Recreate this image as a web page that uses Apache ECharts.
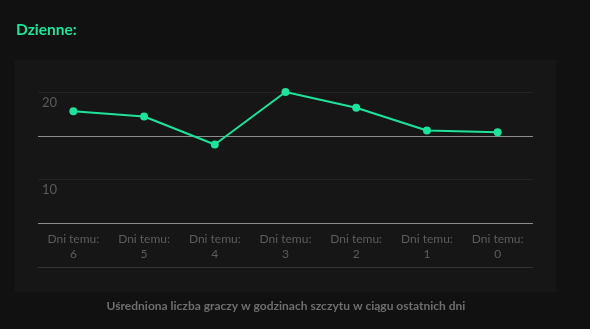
<!DOCTYPE html>
<html><head><meta charset="utf-8">
<script src="https://cdn.jsdelivr.net/npm/echarts@6/dist/echarts.min.js"></script>
<style>
html,body{margin:0;padding:0;background:#111111;}
#c{width:590px;height:329px;}
</style></head>
<body><div id="c"></div>
<script>
const titleText = 'Dzienne:';
const captionText = 'Uśredniona liczba graczy w godzinach szczytu w ciągu ostatnich dni';
const categories = ['Dni temu:\n6','Dni temu:\n5','Dni temu:\n4','Dni temu:\n3','Dni temu:\n2','Dni temu:\n1','Dni temu:\n0'];
const values = [17.8, 17.2, 14.0, 20.0, 18.2, 15.6, 15.4];
const yLabels = [10, 20];

const chart = echarts.init(document.getElementById('c'), null, {renderer:'canvas'});
chart.setOption({
  backgroundColor: '#111111',
  animation: false,
  graphic: [{
    type: 'rect', silent: true, z: -10,
    shape: {x: 15, y: 60, width: 541, height: 232},
    style: {fill: '#161616'}
  }],
  title: [{
    text: titleText, left: 16, top: 21.5, padding: 0,
    textStyle: {color: '#1ee39a', fontSize: 15.5, fontWeight: 'bold', fontFamily: 'Lato'}
  }, {
    text: captionText, left: 286, top: 300, padding: 0, textAlign: 'center',
    textStyle: {color: '#6e6e6e', fontSize: 12, fontWeight: 'bold', fontFamily: 'Lato'}
  }],
  grid: {left: 38, right: 57, top: 92, bottom: 62},
  xAxis: {
    type: 'category', data: categories, boundaryGap: true,
    axisLine: {show: false}, axisTick: {show: false},
    axisLabel: {inside: true, margin: 5, color: '#5c5c5c', fontSize: 12, lineHeight: 15, fontFamily: 'Lato'},
    splitLine: {show: false}
  },
  yAxis: {
    type: 'value', min: 0, max: 20, interval: 5,
    axisLine: {show: false}, axisTick: {show: false},
    axisLabel: {
      inside: true, margin: 4, color: '#5a5a5a', fontSize: 13, fontFamily: 'Lato',
      verticalAlign: 'top', padding: [4, 0, 0, 0],
      formatter: v => yLabels.includes(v) ? String(v) : ''
    },
    splitLine: {show: true, lineStyle: {width: 1, color: ['#333333', '#8c8c8c', '#222222', '#8c8c8c', '#222222']}}
  },
  series: [{
    type: 'line', data: values,
    symbol: 'circle', symbolSize: 8,
    lineStyle: {color: '#1ee39a', width: 2},
    itemStyle: {color: '#1ee39a'}
  }]
});
</script></body></html>
